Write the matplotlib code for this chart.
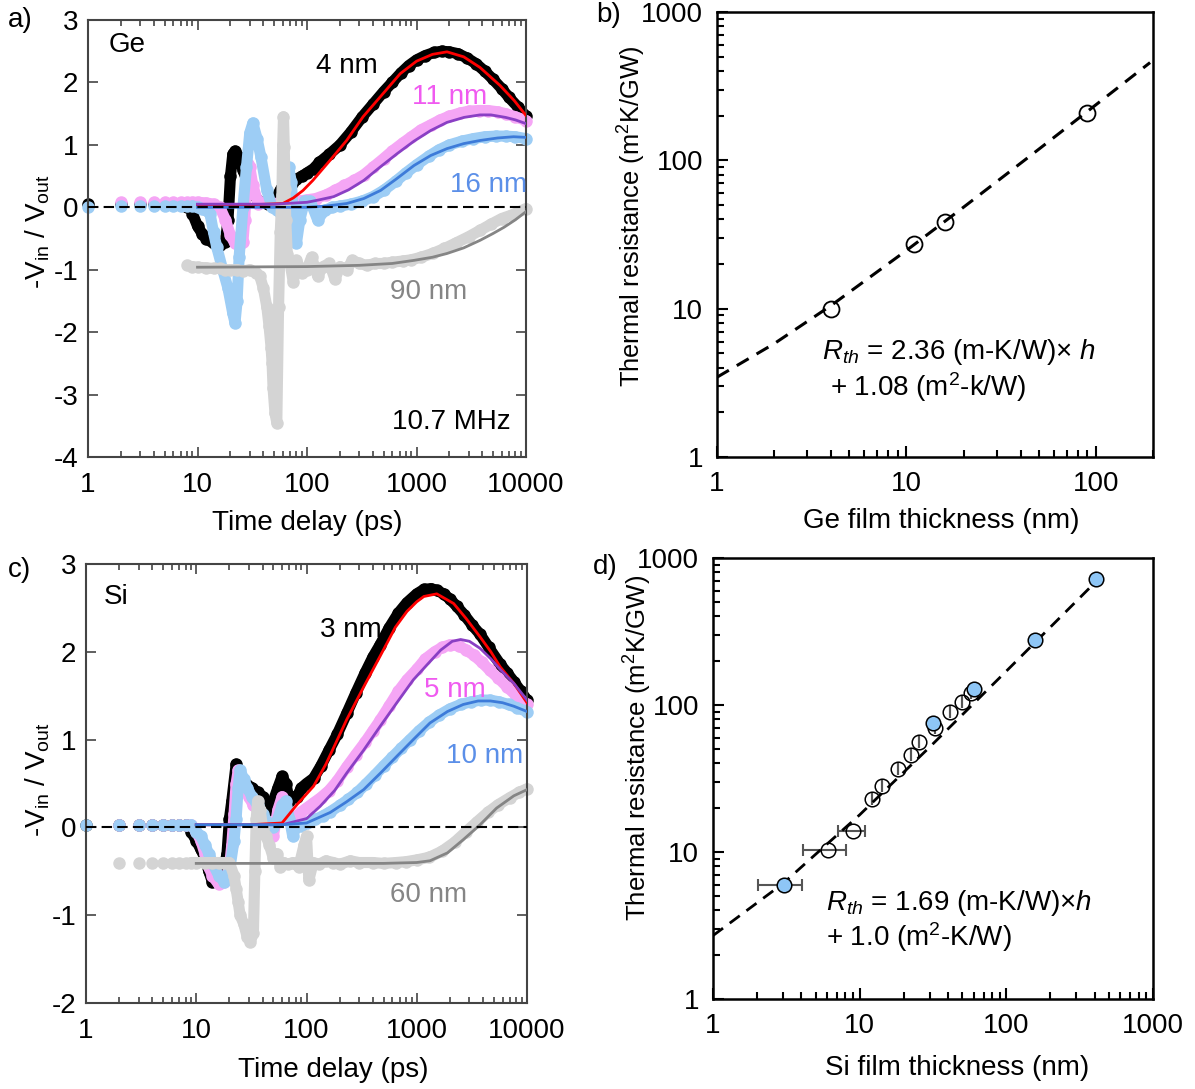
import numpy as np
import matplotlib
matplotlib.use('Agg')
import matplotlib.pyplot as plt
from matplotlib.ticker import NullFormatter

plt.rcParams['font.family'] = ['Liberation Sans', 'DejaVu Sans']
plt.rcParams['mathtext.fontset'] = 'custom'
plt.rcParams['mathtext.rm'] = 'Liberation Sans'
plt.rcParams['mathtext.it'] = 'Liberation Sans:italic'

# ---------------- panel a : Ge ----------------
ge4_t = [1, 2, 3, 4, 5, 6, 7, 8, 9, 10, 11, 12, 14, 16, 18, 19, 20, 21, 22, 24, 26, 30, 36, 44, 52,
         58, 64, 70, 80, 90, 100, 115, 130, 160, 200, 250, 320, 400, 500, 600, 720, 850, 1000, 1200,
         1450, 1700, 2000, 2400, 2900, 3500, 4200, 5000, 6000, 7000, 8500, 10000]
ge4_v = [0.05, 0.05, 0.05, 0.05, 0.05, 0.05, 0.04, 0.0, -0.1, -0.3, -0.42, -0.5, -0.58, -0.6, -0.55,
         -0.2, 0.5, 0.85, 0.9, 0.8, 0.6, 0.3, 0.1, 0.05, 0.15, 0.3, 0.4, 0.3, 0.45, 0.5, 0.55, 0.62,
         0.72, 0.85, 1.0, 1.2, 1.45, 1.65, 1.85, 2.0, 2.15, 2.27, 2.36, 2.43, 2.48, 2.5, 2.49, 2.46,
         2.39, 2.3, 2.18, 2.05, 1.9, 1.76, 1.6, 1.46]
ge4_fit_t = [10, 30, 60, 75, 92, 113, 162, 230, 325, 500, 710, 1000, 1400, 1900, 2700, 3800, 5800, 7800, 10000]
ge4_fit_v = [0.04, 0.04, 0.06, 0.15, 0.27, 0.43, 0.75, 1.07, 1.45, 1.83, 2.14, 2.34, 2.45, 2.49, 2.41, 2.24, 1.95, 1.71, 1.47]

ge11_t = [2, 3, 4, 5, 6, 7, 8, 9, 10, 12, 14, 16, 18, 20, 22, 24, 26, 27, 28, 29, 30, 32, 36, 42, 50,
          60, 70, 85, 100, 120, 150, 180, 220, 270, 330, 400, 500, 600, 750, 900, 1100, 1350, 1650,
          2000, 2500, 3000, 3700, 4500, 5500, 6500, 8000, 10000]
ge11_v = [0.08, 0.08, 0.08, 0.08, 0.08, 0.08, 0.08, 0.08, 0.08, 0.07, 0.05, 0.0, -0.2, -0.45, -0.58,
          -0.62, -0.55, -0.2, 0.4, 0.7, 0.65, 0.35, 0.05, 0.1, 0.05, 0.1, 0.15, 0.1, 0.12, 0.14, 0.2,
          0.27, 0.35, 0.43, 0.52, 0.64, 0.78, 0.9, 1.03, 1.13, 1.24, 1.32, 1.4, 1.46, 1.51, 1.54, 1.55,
          1.55, 1.53, 1.5, 1.45, 1.39]
ge11_fit_t = [10, 50, 100, 130, 175, 240, 330, 470, 667, 950, 1350, 1900, 2720, 3800, 4780, 6500, 8000, 10000]
ge11_fit_v = [0.05, 0.05, 0.08, 0.12, 0.17, 0.28, 0.43, 0.65, 0.86, 1.06, 1.23, 1.36, 1.44, 1.48, 1.48, 1.44, 1.4, 1.34]

ge16_t = [1, 2, 3, 4, 5, 6, 7, 8, 9, 10, 11, 12, 13, 14, 15, 17, 19, 21, 22, 23, 24, 26, 28, 30, 32,
          35, 38, 43, 48, 53, 58, 63, 68, 72, 76, 80, 86, 95, 107, 125, 145, 170, 200, 250, 320, 400,
          500, 650, 800, 1000, 1300, 1600, 2000, 2600, 3300, 4200, 5300, 6500, 8000, 10000]
ge16_v = [0.0, 0.02, 0.02, 0.02, 0.02, 0.02, 0.02, 0.02, 0.02, 0.0, -0.02, -0.05, -0.1, -0.4, -0.64,
          -1.0, -1.3, -1.7, -1.85, -1.5, -0.8, 0.0, 0.64, 1.19, 1.35, 1.1, 0.8, 0.27, 0.0, -0.05, -0.1,
          0.1, 0.64, 0.4, -0.3, -0.58, -0.2, 0.1, 0.1, -0.2, -0.05, 0.0, 0.02, 0.05, 0.1, 0.17, 0.27,
          0.42, 0.55, 0.68, 0.82, 0.92, 1.0, 1.06, 1.1, 1.13, 1.14, 1.14, 1.13, 1.1]
ge16_fit_t = [10, 50, 100, 150, 230, 330, 470, 650, 950, 1350, 1900, 2700, 3800, 5500, 7700, 10000]
ge16_fit_v = [0.0, 0.0, 0.0, 0.02, 0.06, 0.14, 0.27, 0.45, 0.67, 0.83, 0.94, 1.02, 1.07, 1.11, 1.13, 1.12]

ge90_t = [8, 9, 10, 12, 14, 16, 18, 20, 23, 26, 30, 34, 37, 40, 43, 45, 47, 48, 49, 51, 53, 55, 57,
          59, 60, 61, 62, 63, 64, 66, 70, 75, 80, 90, 100, 110, 125, 140, 160, 180, 200, 230, 260,
          300, 350, 420, 500, 600, 750, 900, 1100, 1400, 1800, 2300, 3000, 3800, 4800, 6000, 7500, 10000]
ge90_v = [-0.93, -0.95, -0.96, -0.97, -0.98, -0.98, -1.0, -1.0, -1.0, -1.02, -1.0, -1.05, -1.1, -1.3,
          -1.6, -1.9, -2.25, -2.5, -2.9, -3.3, -3.45, -1.6, -0.4, 0.2, 1.0, 1.45, 0.97, 0.3, -0.2,
          -0.75, -0.9, -1.2, -0.85, -1.05, -1.0, -0.8, -1.1, -0.95, -0.9, -1.15, -0.95, -1.0, -0.85,
          -0.9, -0.93, -0.9, -0.9, -0.88, -0.86, -0.84, -0.8, -0.74, -0.66, -0.57, -0.47, -0.37,
          -0.27, -0.18, -0.12, -0.02]
ge90_fit_t = [10, 100, 300, 600, 950, 1400, 1900, 2700, 3800, 5000, 6300, 8000, 10000]
ge90_fit_v = [-0.96, -0.95, -0.93, -0.9, -0.85, -0.8, -0.74, -0.65, -0.53, -0.42, -0.32, -0.2, -0.07]

# ---------------- panel c : Si ----------------
si3_t = [1, 2, 3, 4, 5, 6, 7, 8, 9, 10, 11, 12, 13, 14, 15, 17, 19, 20, 21, 23, 24, 26, 28, 32, 36,
         40, 45, 50, 55, 60, 65, 70, 75, 82, 90, 100, 116, 135, 160, 190, 232, 280, 340, 400, 465,
         560, 680, 815, 1000, 1160, 1350, 1520, 1750, 2000, 2300, 2700, 3200, 3750, 4500, 5700,
         6600, 7600, 8800, 10000]
si3_v = [0.03, 0.03, 0.03, 0.03, 0.03, 0.03, 0.03, 0.03, -0.05, -0.15, -0.25, -0.35, -0.5, -0.62,
         -0.6, -0.6, -0.3, 0.1, 0.3, 0.72, 0.65, 0.55, 0.5, 0.45, 0.4, 0.35, 0.2, 0.3, 0.45, 0.58,
         0.5, 0.3, 0.35, 0.35, 0.45, 0.5, 0.56, 0.7, 0.88, 1.06, 1.3, 1.53, 1.76, 1.94, 2.08, 2.27,
         2.44, 2.56, 2.66, 2.71, 2.72, 2.7, 2.66, 2.6, 2.52, 2.42, 2.3, 2.2, 2.05, 1.86, 1.76, 1.66,
         1.55, 1.45]
si3_fit_t = [10, 30, 60, 82, 100, 116, 150, 232, 330, 465, 640, 815, 1000, 1160, 1520, 2160, 2800,
             3750, 4700, 5700, 7600, 10000]
si3_fit_v = [0.03, 0.03, 0.05, 0.26, 0.38, 0.47, 0.72, 1.23, 1.6, 1.95, 2.28, 2.46, 2.57, 2.63, 2.66,
             2.55, 2.38, 2.17, 2.0, 1.83, 1.64, 1.42]

si5_t = [2, 3, 4, 5, 6, 7, 8, 9, 10, 11, 12, 13, 14, 16, 18, 20, 21, 22, 23, 24, 26, 28, 30, 33, 36,
         40, 45, 50, 55, 60, 65, 70, 80, 90, 100, 116, 135, 160, 190, 232, 280, 340, 400, 465, 560,
         680, 815, 1000, 1200, 1450, 1700, 2000, 2400, 2800, 3300, 3900, 4600, 5500, 6600, 8000, 10000]
si5_v = [0.03, 0.03, 0.03, 0.03, 0.03, 0.03, 0.03, 0.03, -0.05, -0.15, -0.3, -0.45, -0.55, -0.65,
         -0.62, -0.45, -0.2, 0.15, 0.5, 0.65, 0.55, 0.45, 0.35, 0.25, 0.2, 0.1, 0.0, -0.1, 0.2, 0.35,
         0.2, 0.1, 0.12, 0.18, 0.22, 0.28, 0.34, 0.42, 0.53, 0.69, 0.83, 0.97, 1.1, 1.22, 1.38, 1.55,
         1.68, 1.8, 1.92, 2.0, 2.05, 2.08, 2.07, 2.02, 1.96, 1.88, 1.79, 1.7, 1.6, 1.5, 1.4]
si5_fit_t = [10, 60, 100, 133, 180, 232, 330, 465, 660, 930, 1300, 1650, 2100, 2500, 3000, 3750, 4700,
             5700, 7600, 10000]
si5_fit_v = [0.03, 0.03, 0.1, 0.24, 0.42, 0.62, 0.88, 1.15, 1.42, 1.68, 1.88, 2.02, 2.12, 2.14, 2.12,
             2.04, 1.92, 1.8, 1.64, 1.45]

si10_t = [1, 2, 3, 4, 5, 6, 7, 8, 9, 10, 11, 12, 13, 14, 16, 18, 20, 22, 23, 24, 25, 27, 29, 32, 36,
          40, 45, 50, 55, 60, 65, 70, 75, 80, 90, 100, 120, 140, 165, 200, 240, 290, 350, 420, 500,
          600, 720, 870, 1050, 1300, 1600, 2000, 2500, 3100, 3800, 4600, 5600, 6800, 8200, 10000]
si10_v = [0.03, 0.03, 0.03, 0.03, 0.03, 0.03, 0.03, 0.03, 0.03, -0.05, -0.1, -0.2, -0.3, -0.4, -0.55,
          -0.62, -0.5, -0.15, 0.1, 0.45, 0.65, 0.55, 0.45, 0.35, 0.25, 0.15, 0.05, 0.0, 0.1, 0.25,
          0.3, 0.1, -0.1, 0.0, 0.02, 0.05, 0.09, 0.13, 0.18, 0.25, 0.32, 0.4, 0.5, 0.6, 0.7, 0.8, 0.9,
          1.0, 1.1, 1.2, 1.28, 1.35, 1.4, 1.43, 1.45, 1.45, 1.43, 1.4, 1.36, 1.32]
si10_fit_t = [10, 60, 100, 164, 230, 330, 470, 660, 930, 1320, 1900, 2640, 3600, 4660, 6000, 7600, 10000]
si10_fit_v = [0.03, 0.03, 0.05, 0.17, 0.29, 0.43, 0.62, 0.81, 1.0, 1.19, 1.32, 1.4, 1.44, 1.44, 1.42,
              1.38, 1.32]

si60_t = [2, 3, 4, 5, 6, 7, 8, 9, 10, 12, 14, 16, 18, 20, 22, 23, 24, 25, 27, 29, 31, 33, 34, 35, 36,
          38, 40, 43, 46, 50, 54, 58, 62, 68, 75, 85, 95, 100, 105, 115, 130, 150, 175, 200, 250,
          300, 400, 500, 650, 800, 1000, 1300, 1700, 2200, 2800, 3500, 4400, 5500, 7000, 8500, 10000]
si60_v = [-0.4, -0.4, -0.4, -0.4, -0.4, -0.4, -0.4, -0.4, -0.4, -0.4, -0.4, -0.4, -0.4, -0.4, -0.55,
          -0.7, -0.85, -1.0, -1.1, -1.25, -1.3, -1.2, -0.5, 0.1, 0.3, 0.2, 0.0, -0.1, -0.2, -0.35,
          -0.3, -0.45, -0.4, -0.42, -0.4, -0.45, -0.2, -0.1, -0.6, -0.4, -0.42, -0.38, -0.4, -0.42,
          -0.38, -0.4, -0.4, -0.41, -0.4, -0.39, -0.37, -0.34, -0.27, -0.17, -0.05, 0.06, 0.17,
          0.26, 0.34, 0.4, 0.44]
si60_fit_t = [10, 100, 500, 1000, 1320, 1900, 2640, 3750, 5300, 7600, 10000]
si60_fit_v = [-0.41, -0.41, -0.41, -0.4, -0.38, -0.29, -0.14, 0.03, 0.22, 0.36, 0.43]

# ---------------- panel b : Ge thermal resistance ----------------
ge_h = [4, 11, 16, 90]
ge_R = [10.0, 27.3, 38.2, 209]
ge_line_h = [1, 2, 4, 10, 20, 50, 100, 193]
ge_line_R = [3.45, 5.8, 10.5, 24.7, 48.3, 119, 237, 456]

# ---------------- panel d : Si thermal resistance ----------------
si_open_h = [6.1, 9.0, 12.2, 14.1, 18.2, 22.3, 25.4, 32.6, 41.5, 49.9, 57.7]
si_open_R = [10.3, 13.9, 23.0, 28.3, 36.5, 45.9, 56.1, 70.0, 89, 105, 120]
si_open_err = [2.0, 1.9, 0, 0, 0, 0, 0, 0, 0, 0, 0]
si_blue_h = [3.03, 31.6, 59.9, 156, 411]
si_blue_R = [6.0, 76, 128, 276, 718]
si_blue_err = [1.0, 0, 0, 0, 0]
si_line_h = [1, 3, 10, 30, 100, 300, 420]
si_line_R = [2.7, 6.1, 17.9, 51.7, 170, 508, 711]

FS = 20
BLACK, RED = 'black', '#ff0000'
PINK, PURPLE = '#f5a6f5', '#8a3fc4'
LBLUE, BLUE = '#9dcdf5', '#3d7bd9'
LGRAY, GRAY = '#d4d4d4', '#858585'

W, H = 1195, 1089
fig = plt.figure(figsize=(W / 100, H / 100), dpi=100)


def box(l, t, r, b):
    return [l / W, 1 - b / H, (r - l) / W, (b - t) / H]


ax_a = fig.add_axes(box(88, 20, 526, 457))
ax_c = fig.add_axes(box(86, 564, 527, 1003))
ax_b = fig.add_axes(box(717, 12, 1153, 457))
ax_d = fig.add_axes(box(713, 558, 1153, 999))


def data(ax, t, v, color):
    t = np.array(t, dtype=float)
    v = np.array(v, dtype=float)
    m = t >= 9
    ax.plot(t[m], v[m], '-', color=color, lw=8, solid_capstyle='round',
            solid_joinstyle='round', zorder=2, clip_on=False)
    ax.plot(t, v, 'o', color=color, ms=9, mew=0, zorder=2, clip_on=False)


def fit(ax, t, v, color):
    ax.plot(t, v, '-', color=color, lw=2.0, zorder=4)


def style_td(ax, ylim, yticks):
    ax.set_xscale('log')
    ax.set_xlim(1, 10000)
    ax.set_ylim(*ylim)
    ax.set_xticks([1, 10, 100, 1000, 10000])
    ax.set_xticklabels(['1', '10', '100', '1000', '10000'])
    ax.xaxis.set_minor_formatter(NullFormatter())
    ax.set_yticks(yticks)
    ax.set_yticklabels([str(y) for y in yticks])
    ax.tick_params(which='both', direction='in', top=True, right=True,
                   labelsize=FS, color='#444444', width=1.2)
    ax.tick_params(which='major', length=7, pad=7)
    ax.tick_params(axis='x', which='major', pad=11)
    ax.tick_params(which='minor', length=4)
    for s in ax.spines.values():
        s.set_color('#444444')
        s.set_linewidth(1.5)
    ax.axhline(0, color='black', lw=1.5, ls=(0, (5, 2.5)), zorder=5)


# panel a
data(ax_a, ge4_t, ge4_v, BLACK)
data(ax_a, ge11_t, ge11_v, PINK)
data(ax_a, ge16_t, ge16_v, LBLUE)
data(ax_a, ge90_t, ge90_v, LGRAY)
fit(ax_a, ge4_fit_t, ge4_fit_v, RED)
fit(ax_a, ge11_fit_t, ge11_fit_v, PURPLE)
fit(ax_a, ge16_fit_t, ge16_fit_v, BLUE)
fit(ax_a, ge90_fit_t, ge90_fit_v, GRAY)
style_td(ax_a, (-4, 3), [-4, -3, -2, -1, 0, 1, 2, 3])
ta = ax_a.transAxes
ax_a.text(0.046, 0.943, 'Ge', transform=ta, fontsize=FS, va='center')
ax_a.text(0.52, 0.895, '4 nm', transform=ta, fontsize=FS, va='center')
ax_a.text(0.74, 0.824, '11 nm', transform=ta, fontsize=FS, va='center', color='#f05af0')
ax_a.text(0.826, 0.622, '16 nm', transform=ta, fontsize=FS, va='center', color='#5b8fe8')
ax_a.text(0.69, 0.378, '90 nm', transform=ta, fontsize=FS, va='center', color='#858585')
ax_a.text(0.694, 0.08, '10.7 MHz', transform=ta, fontsize=FS, va='center')

# panel c
data(ax_c, si3_t, si3_v, BLACK)
data(ax_c, si5_t, si5_v, PINK)
data(ax_c, si10_t, si10_v, LBLUE)
data(ax_c, si60_t, si60_v, LGRAY)
fit(ax_c, si3_fit_t, si3_fit_v, RED)
fit(ax_c, si5_fit_t, si5_fit_v, PURPLE)
fit(ax_c, si10_fit_t, si10_fit_v, BLUE)
fit(ax_c, si60_fit_t, si60_fit_v, GRAY)
style_td(ax_c, (-2, 3), [-2, -1, 0, 1, 2, 3])
tc = ax_c.transAxes
ax_c.text(0.041, 0.925, 'Si', transform=tc, fontsize=FS, va='center')
ax_c.text(0.531, 0.85, '3 nm', transform=tc, fontsize=FS, va='center')
ax_c.text(0.766, 0.713, '5 nm', transform=tc, fontsize=FS, va='center', color='#f05af0')
ax_c.text(0.816, 0.563, '10 nm', transform=tc, fontsize=FS, va='center', color='#5b8fe8')
ax_c.text(0.689, 0.246, '60 nm', transform=tc, fontsize=FS, va='center', color='#858585')


def style_rth(ax, xmax, xticks):
    ax.set_xscale('log')
    ax.set_yscale('log')
    ax.set_xlim(1, xmax)
    ax.set_ylim(1, 1000)
    ax.set_xticks(xticks)
    ax.set_xticklabels([str(x) for x in xticks])
    ax.set_yticks([1, 10, 100, 1000])
    ax.set_yticklabels(['1', '10', '100', '1000'])
    ax.xaxis.set_minor_formatter(NullFormatter())
    ax.yaxis.set_minor_formatter(NullFormatter())
    ax.tick_params(which='both', direction='in', labelsize=FS, width=1.5)
    ax.tick_params(which='major', length=8, pad=10)
    ax.tick_params(which='minor', length=5)
    for s in ax.spines.values():
        s.set_linewidth(1.8)


# panel b
ax_b.plot(ge_line_h, ge_line_R, color='black', lw=2.2, ls=(0, (4.5, 3)), zorder=2)
ax_b.plot(ge_h, ge_R, 'o', ms=11.5, mfc='none', mec='black', mew=1.3, zorder=3)
style_rth(ax_b, 200, [1, 10, 100])
ax_b.text(0.241, 0.236, '$R_{th}$ = 2.36 (m-K/W)× $h$', transform=ax_b.transAxes,
          fontsize=FS, va='center')
ax_b.text(0.259, 0.157, '+ 1.08 (m$^2$-k/W)', transform=ax_b.transAxes,
          fontsize=FS, va='center')

# panel d
ax_d.errorbar(si_open_h, si_open_R, xerr=si_open_err, fmt='none', ecolor='#555555',
              elinewidth=1.5, capsize=4, capthick=1.5, zorder=1)
ax_d.errorbar(si_blue_h, si_blue_R, xerr=si_blue_err, fmt='none', ecolor='#555555',
              elinewidth=1.5, capsize=4, capthick=1.5, zorder=1)
ax_d.plot(si_open_h, si_open_R, 'o', ms=10.5, mfc='none', mec='black', mew=1.1, zorder=2)
ax_d.plot(si_line_h, si_line_R, color='black', lw=2.0, ls=(0, (4.5, 3)), zorder=3)
ax_d.plot(si_blue_h, si_blue_R, 'o', ms=10.5, mfc='#8ec6f6', mec='black', mew=1.1, zorder=4)
style_rth(ax_d, 1000, [1, 10, 100, 1000])
ax_d.text(0.257, 0.218, '$R_{th}$ = 1.69 (m-K/W)×$h$', transform=ax_d.transAxes,
          fontsize=FS, va='center')
ax_d.text(0.257, 0.141, '+ 1.0 (m$^2$-K/W)', transform=ax_d.transAxes,
          fontsize=FS, va='center')

# axis titles and panel letters
fig.text(307 / W, 1 - 523 / H, 'Time delay (ps)', fontsize=FS, ha='center', va='center')
fig.text(333 / W, 1 - 1070 / H, 'Time delay (ps)', fontsize=FS, ha='center', va='center')
fig.text(941 / W, 1 - 521 / H, 'Ge film thickness (nm)', fontsize=FS, ha='center', va='center')
fig.text(957 / W, 1 - 1068 / H, 'Si film thickness (nm)', fontsize=FS, ha='center', va='center')
ylab_v = '-V$_{\\mathrm{in}}$ / V$_{\\mathrm{out}}$'
fig.text(38 / W, 1 - 232 / H, ylab_v, fontsize=FS, rotation=90, ha='center', va='center')
fig.text(38 / W, 1 - 780 / H, ylab_v, fontsize=FS, rotation=90, ha='center', va='center')
ylab_r = 'Thermal resistance (m$^2$K/GW)'
fig.text(632 / W, 1 - 216 / H, ylab_r, fontsize=18.4, rotation=90, ha='center', va='center')
fig.text(638 / W, 1 - 748 / H, ylab_r, fontsize=18.6, rotation=90, ha='center', va='center')

fig.text(8 / W, 1 - 20 / H, 'a)', fontsize=FS, va='center')
fig.text(596 / W, 1 - 15 / H, 'b)', fontsize=FS, va='center')
fig.text(8 / W, 1 - 570 / H, 'c)', fontsize=FS, va='center')
fig.text(593 / W, 1 - 567 / H, 'd)', fontsize=FS, va='center')

fig.savefig('out.png', dpi=100)
